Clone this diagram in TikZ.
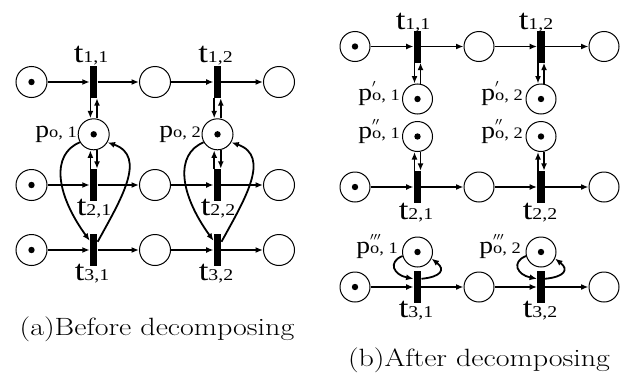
\documentclass[tikz,border=0pt]{standalone}
\usepackage{fontspec}
\newfontfamily\tms{Liberation Serif}
\usetikzlibrary{arrows.meta}
\newcommand\tlab[1]{\scalebox{1.2}[1]{\tms\fontsize{29}{29}\selectfont t\fontsize{16.5}{16.5}\selectfont\raisebox{-0.5pt}{#1}}}
\newcommand\plab[2]{\scalebox{1.15}[1]{\tms\fontsize{24}{24}\selectfont p\fontsize{16}{16}\selectfont\rlap{\raisebox{6pt}{$#1$}}\raisebox{-0.5pt}{#2}}}
\begin{document}
\begin{tikzpicture}[x=1pt,y=-1pt,
  place/.style={circle,draw,line width=1pt,minimum size=31pt,inner sep=0pt},
  rplace/.style={place,minimum size=30pt},
  marked/.style={place,path picture={\fill (path picture bounding box.center) circle (3.2pt);}},
  rmarked/.style={marked,minimum size=30pt},
  trans/.style={rectangle,fill=black,minimum width=7.5pt,minimum height=32pt,inner sep=0pt},
  arr/.style={-{Latex[length=7.5pt,width=6pt]},line width=1.8pt},
  lbl/.style={anchor=base,inner sep=0pt},
  captxt/.style={inner sep=0pt,font=\fontsize{25}{25}\selectfont}]
\useasboundingbox (0,0) rectangle (636,380);
% ---------- left panel ----------
\foreach \r/\y in {1/82,2/185,3/250}{
  \node[marked] (a\r1) at (31.5,\y) {};
  \node[trans]  (at\r1) at (93.7,\y) {};
  \node[place]  (a\r2) at (155,\y) {};
  \node[trans]  (at\r2) at (217.5,\y) {};
  \node[place]  (a\r3) at (279,\y) {};
  \draw[arr] (a\r1) -- (at\r1);
  \draw[arr] (at\r1) -- (a\r2);
  \draw[arr] (a\r2) -- (at\r2);
  \draw[arr] (at\r2) -- (a\r3);
}
\node[marked] (apo1) at (93.7,134.3) {};
\node[marked] (apo2) at (217.5,134.3) {};
\foreach \c in {1,2}{
  \draw[arr] ([xshift=-3.3pt]at1\c.south) -- ([xshift=-3.3pt]apo\c.north);
  \draw[arr] ([xshift=3.3pt]apo\c.north) -- ([xshift=3.3pt]at1\c.south);
  \draw[arr] ([xshift=-3.3pt]at2\c.north) -- ([xshift=-3.3pt]apo\c.south);
  \draw[arr] ([xshift=3.3pt]apo\c.south) -- ([xshift=3.3pt]at2\c.north);
  \draw[arr] (apo\c.210) .. controls +(-29,12) and +(-34,-47) .. ([yshift=-7pt]at3\c.north west);
  \draw[arr] ([yshift=-8pt]at3\c.north east) .. controls +(23,-42) and +(40,14) .. (apo\c.-30);
}
\node[lbl] (lt11) at (91,62) {\tlab{1,1}};
\node[lbl] (lt12) at (215.5,62) {\tlab{1,2}};
\node[lbl] (lt21) at (94,215) {\tlab{2,1}};
\node[lbl] (lt22) at (218,215) {\tlab{2,2}};
\node[lbl] (lt31) at (92,280) {\tlab{3,1}};
\node[lbl] (lt32) at (216,280) {\tlab{3,2}};
\node[lbl] (lpo1) at (56,137) {\plab{}{o, 1}};
\node[lbl] (lpo2) at (180,137) {\plab{}{o, 2}};
\node[captxt] (capa) at (157,329) {\scalebox{1.2}[1]{(a)Before decomposing}};
% ---------- right panel ----------
\foreach \r/\y in {1/46.5,2/187,3/287}{
  \node[rmarked] (b\r1) at (355,\y) {};
  \node[trans]   (bt\r1) at (417.5,\y) {};
  \node[rplace]  (b\r2) at (479,\y) {};
  \node[trans]   (bt\r2) at (541,\y) {};
  \node[rplace]  (b\r3) at (604,\y) {};
  \draw[arr] (b\r1) -- (bt\r1);
  \draw[arr] (bt\r1) -- (b\r2);
  \draw[arr] (b\r2) -- (bt\r2);
  \draw[arr] (bt\r2) -- (b\r3);
}
\foreach \c/\x in {1/417.5,2/541}{
  \node[rmarked] (bpa\c) at (\x,99) {};
  \node[rmarked] (bpb\c) at (\x,136.5) {};
  \node[rmarked] (bpc\c) at (\x,252) {};
  \draw[arr] ([xshift=-3pt]bt1\c.south) -- ([xshift=-3pt]bpa\c.north);
  \draw[arr] ([xshift=3pt]bpa\c.north) -- ([xshift=3pt]bt1\c.south);
  \draw[arr] ([xshift=-3pt]bt2\c.north) -- ([xshift=-3pt]bpb\c.south);
  \draw[arr] ([xshift=3pt]bpb\c.south) -- ([xshift=3pt]bt2\c.north);
  \draw[arr] (bpc\c.195) .. controls +(-15,6) and +(-20,-4) .. ([yshift=-8pt]bt3\c.north west);
  \draw[arr] ([yshift=-8pt]bt3\c.north east) .. controls +(20,-2) and +(14,11) .. (bpc\c.-25);
}
\node[lbl] (mt11) at (413,29) {\tlab{1,1}};
\node[lbl] (mt12) at (536,29) {\tlab{1,2}};
\node[lbl] (mt21) at (416,219) {\tlab{2,1}};
\node[lbl] (mt22) at (540,219) {\tlab{2,2}};
\node[lbl] (mt31) at (416,317) {\tlab{3,1}};
\node[lbl] (mt32) at (540,317) {\tlab{3,2}};
\node[lbl] (mpa1) at (379,100) {\plab{'}{o, 1}};
\node[lbl] (mpa2) at (502,100) {\plab{'}{o, 2}};
\node[lbl] (mpb1) at (379,138) {\plab{''}{o, 1}};
\node[lbl] (mpb2) at (502,138) {\plab{''}{o, 2}};
\node[lbl] (mpc1) at (377,253) {\plab{'''}{o, 1}};
\node[lbl] (mpc2) at (500,253) {\plab{'''}{o, 2}};
\node[captxt] (capb) at (479,360) {\scalebox{1.2}[1]{(b)After decomposing}};
\end{tikzpicture}
\end{document}
